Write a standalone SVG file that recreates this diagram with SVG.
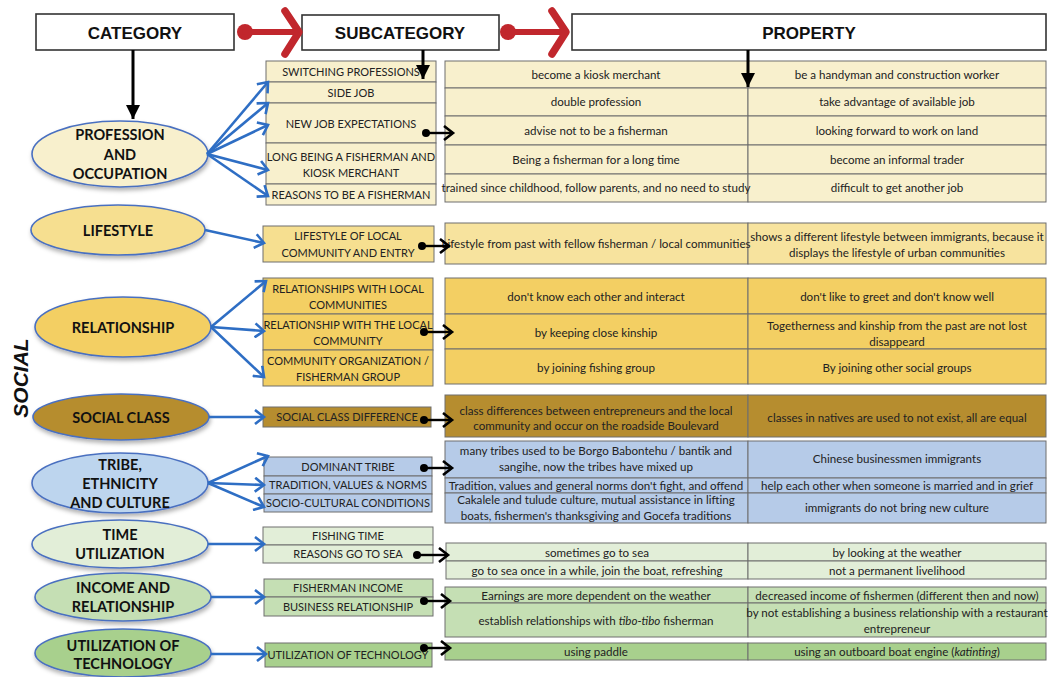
<svg xmlns="http://www.w3.org/2000/svg" width="1052" height="677" viewBox="0 0 1052 677">
  <defs>
    <style>
      .hdr { fill: #ffffff; stroke: #333333; stroke-width: 1.6; }
      .hdrt { font-family: "Liberation Sans", Arial, sans-serif; font-weight: bold; font-size: 17px; fill: #111; text-anchor: middle; }
      .cat { stroke: #4a70c0; stroke-width: 1.6; filter: url(#shadow); }
      .catt { font-family: Lato, "Liberation Sans", sans-serif; font-weight: bold; font-size: 14.5px; fill: #111; text-anchor: middle; }
      .cell { stroke: #6e6e6e; stroke-width: 1; }
      .sub { font-family: Lato, "Liberation Sans", sans-serif; font-size: 11px; fill: #222; text-anchor: middle; }
      .prop { font-family: Lato, "Liberation Sans", sans-serif; font-size: 11.6px; fill: #222; text-anchor: middle; }
      .blue { stroke: #2e6ec4; stroke-width: 2.6; fill: none; marker-end: url(#blueHead); }
      .blk { stroke: #000; stroke-width: 2.4; fill: none; marker-end: url(#blkHead); }
      .dot { fill: #000; }
      .red { stroke: #c1272d; fill: none; stroke-linecap: round; stroke-linejoin: round; }
      .down { stroke: #000; stroke-width: 3; }
      .c1 { fill: #f8f0cd; } .c2 { fill: #f6df90; } .c2p { fill: #f7e39e; }
      .c3 { fill: #f3cf63; } .c4 { fill: #b68d2f; } .c5 { fill: #b6cbe8; } .c5e { fill: #bdd5ee; }
      .c6 { fill: #e2eed8; } .c7 { fill: #c5dfb4; } .c8 { fill: #a8d08d; }
    </style>
    <filter id="shadow" x="-10%" y="-20%" width="120%" height="150%">
      <feDropShadow dx="1" dy="3" stdDeviation="2" flood-color="#000" flood-opacity="0.3"/>
    </filter>
    <marker id="blueHead" markerUnits="userSpaceOnUse" markerWidth="14" markerHeight="16" refX="10" refY="8" orient="auto">
      <path d="M1,1 L10,8 L1,15" fill="none" stroke="#2e6ec4" stroke-width="2.6"/>
    </marker>
    <marker id="blkHead" markerUnits="userSpaceOnUse" markerWidth="14" markerHeight="16" refX="10" refY="8" orient="auto">
      <path d="M1,1 L10,8 L1,15" fill="none" stroke="#000" stroke-width="2.6"/>
    </marker>
    <marker id="triHead" markerUnits="userSpaceOnUse" markerWidth="16" markerHeight="16" refX="14" refY="7" orient="auto">
      <path d="M0,0 L14,7 L0,14 Z" fill="#000"/>
    </marker>
  </defs>

  <rect width="1052" height="677" fill="#ffffff"/>

  <!-- column headers -->
  <g id="header-category">
    <rect class="hdr" x="36" y="14" width="198" height="36"/>
    <text class="hdrt" x="135" y="39">CATEGORY</text>
  </g>
  <g id="header-subcategory">
    <rect class="hdr" x="302" y="15" width="197" height="35"/>
    <text class="hdrt" x="400" y="39">SUBCATEGORY</text>
  </g>
  <g id="header-property">
    <rect class="hdr" x="572" y="14" width="474" height="36"/>
    <text class="hdrt" x="809" y="39">PROPERTY</text>
  </g>

  <text x="28" y="378" transform="rotate(-90 28 378)" font-family="Liberation Sans, Arial, sans-serif" font-weight="bold" font-style="italic" font-size="21" fill="#111" text-anchor="middle">SOCIAL</text>

  <!-- category ellipses -->
  <g id="cat-profession">
    <ellipse class="cat c1" cx="120" cy="154" rx="88" ry="33"/>
    <text class="catt" x="120" y="140">PROFESSION</text>
    <text class="catt" x="120" y="160">AND</text>
    <text class="catt" x="120" y="179">OCCUPATION</text>
  </g>
  <g id="cat-lifestyle">
    <ellipse class="cat c2" cx="118" cy="230" rx="87" ry="25"/>
    <text class="catt" x="118" y="236">LIFESTYLE</text>
  </g>
  <g id="cat-relationship">
    <ellipse class="cat c3" cx="123" cy="327" rx="88" ry="30"/>
    <text class="catt" x="123" y="333">RELATIONSHIP</text>
  </g>
  <g id="cat-social-class">
    <ellipse class="cat c4" cx="121" cy="417" rx="88" ry="23"/>
    <text class="catt" x="121" y="423">SOCIAL CLASS</text>
  </g>
  <g id="cat-tribe">
    <ellipse class="cat c5e" cx="120" cy="483" rx="88" ry="30"/>
    <text class="catt" x="120" y="470">TRIBE,</text>
    <text class="catt" x="120" y="489">ETHNICITY</text>
    <text class="catt" x="120" y="508">AND CULTURE</text>
  </g>
  <g id="cat-time">
    <ellipse class="cat c6" cx="120" cy="544" rx="88" ry="24"/>
    <text class="catt" x="120" y="540">TIME</text>
    <text class="catt" x="120" y="559">UTILIZATION</text>
  </g>
  <g id="cat-income">
    <ellipse class="cat c7" cx="123" cy="597" rx="88" ry="24"/>
    <text class="catt" x="123" y="593">INCOME AND</text>
    <text class="catt" x="123" y="612">RELATIONSHIP</text>
  </g>
  <g id="cat-technology">
    <ellipse class="cat c8" cx="123" cy="653" rx="88" ry="24"/>
    <text class="catt" x="123" y="651">UTILIZATION OF</text>
    <text class="catt" x="123" y="669">TECHNOLOGY</text>
  </g>

  <!-- subcategory tables -->
  <g id="sub-profession">
    <rect class="cell c1" x="266" y="61" width="170" height="21"/>
    <rect class="cell c1" x="266" y="82" width="170" height="21"/>
    <rect class="cell c1" x="266" y="103" width="170" height="40"/>
    <rect class="cell c1" x="266" y="143" width="170" height="41"/>
    <rect class="cell c1" x="266" y="184" width="170" height="21"/>
    <text class="sub" x="351" y="76">SWITCHING PROFESSIONS</text>
    <text class="sub" x="351" y="97">SIDE JOB</text>
    <text class="sub" x="351" y="128">NEW JOB EXPECTATIONS</text>
    <text class="sub" x="351" y="161">LONG BEING A FISHERMAN AND</text>
    <text class="sub" x="351" y="177">KIOSK MERCHANT</text>
    <text class="sub" x="351" y="199">REASONS TO BE A FISHERMAN</text>
  </g>
  <g id="sub-lifestyle">
    <rect class="cell c2" x="263" y="226" width="171" height="36"/>
    <text class="sub" x="348" y="240">LIFESTYLE OF LOCAL</text>
    <text class="sub" x="348" y="257">COMMUNITY AND ENTRY</text>
  </g>
  <g id="sub-relationship">
    <rect class="cell c3" x="263" y="278" width="170" height="36"/>
    <rect class="cell c3" x="263" y="314" width="170" height="36"/>
    <rect class="cell c3" x="263" y="350" width="170" height="36"/>
    <text class="sub" x="348" y="293">RELATIONSHIPS WITH LOCAL</text>
    <text class="sub" x="348" y="309">COMMUNITIES</text>
    <text class="sub" x="348" y="329">RELATIONSHIP WITH THE LOCAL</text>
    <text class="sub" x="348" y="345">COMMUNITY</text>
    <text class="sub" x="348" y="365">COMMUNITY ORGANIZATION /</text>
    <text class="sub" x="348" y="381">FISHERMAN GROUP</text>
  </g>
  <g id="sub-social-class">
    <rect class="cell c4" x="263" y="407" width="168" height="20"/>
    <text class="sub" x="347" y="421">SOCIAL CLASS DIFFERENCE</text>
  </g>
  <g id="sub-tribe">
    <rect class="cell c5" x="264" y="457" width="168" height="19"/>
    <rect class="cell c5" x="264" y="476" width="168" height="18"/>
    <rect class="cell c5" x="264" y="494" width="168" height="18"/>
    <text class="sub" x="348" y="471">DOMINANT TRIBE</text>
    <text class="sub" x="348" y="489">TRADITION, VALUES &amp; NORMS</text>
    <text class="sub" x="348" y="507">SOCIO-CULTURAL CONDITIONS</text>
  </g>
  <g id="sub-time">
    <rect class="cell c6" x="263" y="527" width="170" height="18"/>
    <rect class="cell c6" x="263" y="545" width="170" height="18"/>
    <text class="sub" x="348" y="540">FISHING TIME</text>
    <text class="sub" x="348" y="558">REASONS GO TO SEA</text>
  </g>
  <g id="sub-income">
    <rect class="cell c7" x="264" y="579" width="169" height="18"/>
    <rect class="cell c7" x="264" y="597" width="169" height="19"/>
    <text class="sub" x="348" y="592">FISHERMAN INCOME</text>
    <text class="sub" x="348" y="611">BUSINESS RELATIONSHIP</text>
  </g>
  <g id="sub-technology">
    <rect class="cell c8" x="265" y="643" width="167" height="24"/>
    <text class="sub" x="348" y="659">UTILIZATION OF TECHNOLOGY</text>
  </g>

  <!-- property tables -->
  <g id="prop-profession">
    <rect class="cell c1" x="445" y="61" width="303" height="27"/>
    <rect class="cell c1" x="748" y="61" width="298" height="27"/>
    <rect class="cell c1" x="445" y="88" width="303" height="28"/>
    <rect class="cell c1" x="748" y="88" width="298" height="28"/>
    <rect class="cell c1" x="445" y="116" width="303" height="29"/>
    <rect class="cell c1" x="748" y="116" width="298" height="29"/>
    <rect class="cell c1" x="445" y="145" width="303" height="29"/>
    <rect class="cell c1" x="748" y="145" width="298" height="29"/>
    <rect class="cell c1" x="445" y="174" width="303" height="28"/>
    <rect class="cell c1" x="748" y="174" width="298" height="28"/>
    <text class="prop" x="596" y="79">become a kiosk merchant</text>
    <text class="prop" x="897" y="79">be a handyman and construction worker</text>
    <text class="prop" x="596" y="106">double profession</text>
    <text class="prop" x="897" y="106">take advantage of available job</text>
    <text class="prop" x="596" y="135">advise not to be a fisherman</text>
    <text class="prop" x="897" y="135">looking forward to work on land</text>
    <text class="prop" x="596" y="164">Being a fisherman for a long time</text>
    <text class="prop" x="897" y="164">become an informal trader</text>
    <text class="prop" x="596" y="192">trained since childhood, follow parents, and no need to study</text>
    <text class="prop" x="897" y="192">difficult to get another job</text>
  </g>
  <g id="prop-lifestyle">
    <rect class="cell c2p" x="445" y="223" width="303" height="41"/>
    <rect class="cell c2p" x="748" y="223" width="298" height="41"/>
    <text class="prop" x="596" y="248">Lifestyle from past with fellow fisherman / local communities</text>
    <text class="prop" x="897" y="241">shows a different lifestyle between immigrants, because it</text>
    <text class="prop" x="897" y="257">displays the lifestyle of urban communities</text>
  </g>
  <g id="prop-relationship">
    <rect class="cell c3" x="445" y="278" width="303" height="36"/>
    <rect class="cell c3" x="748" y="278" width="298" height="36"/>
    <rect class="cell c3" x="445" y="314" width="303" height="35"/>
    <rect class="cell c3" x="748" y="314" width="298" height="35"/>
    <rect class="cell c3" x="445" y="349" width="303" height="35"/>
    <rect class="cell c3" x="748" y="349" width="298" height="35"/>
    <text class="prop" x="596" y="301">don't know each other and interact</text>
    <text class="prop" x="897" y="301">don't like to greet and don't know well</text>
    <text class="prop" x="596" y="337">by keeping close kinship</text>
    <text class="prop" x="897" y="330">Togetherness and kinship from the past are not lost</text>
    <text class="prop" x="897" y="346">disappeard</text>
    <text class="prop" x="596" y="372">by joining fishing group</text>
    <text class="prop" x="897" y="372">By joining other social groups</text>
  </g>
  <g id="prop-social-class">
    <rect class="cell c4" x="445" y="395" width="303" height="42"/>
    <rect class="cell c4" x="748" y="395" width="298" height="42"/>
    <text class="prop" x="596" y="415">class differences between entrepreneurs and the local</text>
    <text class="prop" x="596" y="430">community and occur on the roadside Boulevard</text>
    <text class="prop" x="897" y="422">classes in natives are used to not exist, all are equal</text>
  </g>
  <g id="prop-tribe">
    <rect class="cell c5" x="445" y="441" width="303" height="37"/>
    <rect class="cell c5" x="748" y="441" width="298" height="37"/>
    <rect class="cell c5" x="445" y="478" width="303" height="15"/>
    <rect class="cell c5" x="748" y="478" width="298" height="15"/>
    <rect class="cell c5" x="445" y="493" width="303" height="30"/>
    <rect class="cell c5" x="748" y="493" width="298" height="30"/>
    <text class="prop" x="596" y="455">many tribes used to be Borgo Babontehu / bantik and</text>
    <text class="prop" x="596" y="471">sangihe, now the tribes have mixed up</text>
    <text class="prop" x="897" y="463">Chinese businessmen immigrants</text>
    <text class="prop" x="596" y="490">Tradition, values and general norms don't fight, and offend</text>
    <text class="prop" x="897" y="490">help each other when someone is married and in grief</text>
    <text class="prop" x="596" y="504">Cakalele and tulude culture, mutual assistance in lifting</text>
    <text class="prop" x="596" y="520">boats, fishermen's thanksgiving and Gocefa traditions</text>
    <text class="prop" x="897" y="512">immigrants do not bring new culture</text>
  </g>
  <g id="prop-time">
    <rect class="cell c6" x="446" y="543" width="302" height="18"/>
    <rect class="cell c6" x="748" y="543" width="298" height="18"/>
    <rect class="cell c6" x="446" y="561" width="302" height="18"/>
    <rect class="cell c6" x="748" y="561" width="298" height="18"/>
    <text class="prop" x="597" y="557">sometimes go to sea</text>
    <text class="prop" x="897" y="557">by looking at the weather</text>
    <text class="prop" x="597" y="575">go to sea once in a while, join the boat, refreshing</text>
    <text class="prop" x="897" y="575">not a permanent livelihood</text>
  </g>
  <g id="prop-income">
    <rect class="cell c7" x="445" y="587" width="303" height="16"/>
    <rect class="cell c7" x="748" y="587" width="298" height="16"/>
    <rect class="cell c7" x="445" y="603" width="303" height="34"/>
    <rect class="cell c7" x="748" y="603" width="298" height="34"/>
    <text class="prop" x="596" y="600">Earnings are more dependent on the weather</text>
    <text class="prop" x="897" y="600">decreased income of fishermen (different then and now)</text>
    <text class="prop" x="596" y="625">establish relationships with <tspan font-style="italic">tibo-tibo</tspan> fisherman</text>
    <text class="prop" x="897" y="617">by not establishing a business relationship with a restaurant</text>
    <text class="prop" x="897" y="633">entrepreneur</text>
  </g>
  <g id="prop-technology">
    <rect class="cell c8" x="445" y="643" width="303" height="17"/>
    <rect class="cell c8" x="748" y="643" width="298" height="17"/>
    <text class="prop" x="596" y="656">using paddle</text>
    <text class="prop" x="897" y="656">using an outboard boat engine (<tspan font-style="italic">katinting</tspan>)</text>
  </g>

  <!-- connectors -->
  <g id="connectors">
    <!-- header flow -->
    <circle cx="245" cy="32" r="8" fill="#c1272d"/>
    <line class="red" x1="245" y1="32" x2="297" y2="32" stroke-width="6"/>
    <polyline class="red" points="285,11 299,32 285,54" stroke-width="7.5"/>
    <circle cx="508" cy="32" r="8" fill="#c1272d"/>
    <line class="red" x1="508" y1="32" x2="564" y2="32" stroke-width="6"/>
    <polyline class="red" points="552,11 566,32 552,54" stroke-width="7.5"/>
    <line class="down" x1="133" y1="50" x2="133" y2="119" marker-end="url(#triHead)"/>
    <line class="down" x1="423" y1="50" x2="423" y2="79" marker-end="url(#triHead)"/>
    <line class="down" x1="748" y1="50" x2="748" y2="87" marker-end="url(#triHead)"/>

    <!-- category to subcategory -->
    <line class="blue" x1="207" y1="154" x2="268" y2="82"/>
    <line class="blue" x1="207" y1="154" x2="268" y2="103"/>
    <line class="blue" x1="207" y1="154" x2="268" y2="125"/>
    <line class="blue" x1="207" y1="154" x2="268" y2="170"/>
    <line class="blue" x1="207" y1="154" x2="268" y2="196"/>
    <line class="blue" x1="205" y1="230" x2="264" y2="243"/>
    <line class="blue" x1="211" y1="327" x2="266" y2="281"/>
    <line class="blue" x1="211" y1="327" x2="264" y2="331"/>
    <line class="blue" x1="211" y1="327" x2="264" y2="377"/>
    <line class="blue" x1="209" y1="417" x2="264" y2="417"/>
    <line class="blue" x1="208" y1="483" x2="268" y2="456"/>
    <line class="blue" x1="208" y1="483" x2="264" y2="485"/>
    <line class="blue" x1="208" y1="483" x2="264" y2="507"/>
    <line class="blue" x1="208" y1="544" x2="264" y2="544"/>
    <line class="blue" x1="211" y1="597" x2="264" y2="597"/>
    <line class="blue" x1="211" y1="654" x2="266" y2="654"/>

    <!-- subcategory to property -->
    <circle class="dot" cx="426" cy="133" r="4"/>
    <line class="blk" x1="426" y1="133" x2="453" y2="133"/>
    <circle class="dot" cx="422" cy="246" r="4"/>
    <line class="blk" x1="422" y1="246" x2="449" y2="246"/>
    <circle class="dot" cx="424" cy="332" r="4"/>
    <line class="blk" x1="424" y1="332" x2="452" y2="332"/>
    <circle class="dot" cx="424" cy="420" r="4"/>
    <line class="blk" x1="424" y1="420" x2="452" y2="420"/>
    <circle class="dot" cx="424" cy="468" r="4"/>
    <line class="blk" x1="424" y1="468" x2="452" y2="468"/>
    <circle class="dot" cx="417" cy="555" r="4"/>
    <line class="blk" x1="417" y1="555" x2="448" y2="555"/>
    <circle class="dot" cx="424" cy="601" r="4"/>
    <line class="blk" x1="424" y1="601" x2="450" y2="601"/>
    <circle class="dot" cx="424" cy="648" r="4"/>
    <line class="blk" x1="424" y1="648" x2="450" y2="648"/>
  </g>
</svg>
